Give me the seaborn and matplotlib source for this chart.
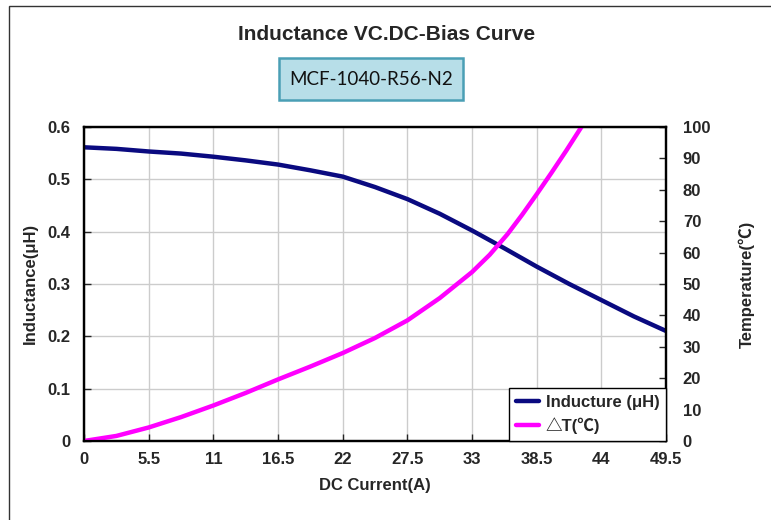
import pandas as pd
import seaborn as sns
import matplotlib.pyplot as plt
from matplotlib.patches import Rectangle
from matplotlib.ticker import FuncFormatter

# DC current (A) vs inductance (uH)
current_l = [0, 2.75, 5.5, 8.25, 11, 13.75, 16.5, 19.25, 22, 24.75, 27.5,
             30.25, 33, 35.75, 38.5, 41.25, 44, 46.75, 49.5]
inductance = [0.561, 0.558, 0.553, 0.549, 0.543, 0.536, 0.528, 0.517, 0.505,
              0.485, 0.462, 0.434, 0.402, 0.368, 0.333, 0.300, 0.269, 0.238, 0.210]

# DC current (A) vs temperature rise (C)
current_t = [0, 2.75, 5.5, 8.25, 11, 13.75, 16.5, 19.25, 22, 24.75, 27.5,
             30.25, 33, 34.5, 36, 37.25, 38.5, 39.75, 41, 42.3]
temp_rise = [0, 1.6, 4.3, 7.6, 11.3, 15.3, 19.6, 23.7, 28.0, 32.8, 38.4,
             45.5, 53.8, 59.3, 65.8, 72.0, 78.6, 85.4, 92.4, 100]

x_ticks = [0, 5.5, 11, 16.5, 22, 27.5, 33, 38.5, 44, 49.5]
y_ticks = [0, 0.1, 0.2, 0.3, 0.4, 0.5, 0.6]
t_ticks = [0, 10, 20, 30, 40, 50, 60, 70, 80, 90, 100]

sns.set_style("white")
plt.rcParams['font.family'] = ['Liberation Sans', 'Noto Sans CJK SC', 'DejaVu Sans']

df_l = pd.DataFrame({'current': current_l, 'value': inductance})
df_t = pd.DataFrame({'current': current_t, 'value': temp_rise})

fig = plt.figure(figsize=(7.71, 5.2), dpi=100)
ax = fig.add_axes([0.109, 0.152, 0.755, 0.604])
ax2 = ax.twinx()

sns.lineplot(data=df_l, x='current', y='value', ax=ax, color='#0a0a80',
             linewidth=3.2, label='Inducture (μH)', legend=False)
sns.lineplot(data=df_t, x='current', y='value', ax=ax2, color='#ff00ff',
             linewidth=3.2, label='△T(℃)', legend=False)

ax.set_xlim(0, 49.5)
ax.set_ylim(0, 0.6)
ax2.set_ylim(0, 100)
ax.set_xticks(x_ticks)
ax.set_xticklabels([f'{v:g}' for v in x_ticks])
ax.set_yticks(y_ticks)
ax.yaxis.set_major_formatter(FuncFormatter(lambda v, p: '0' if v == 0 else f'{v:.1f}'))
ax2.set_yticks(t_ticks)

ax.grid(True, color='#cccccc', linewidth=1)
ax2.grid(False)

for a in (ax, ax2):
    for s in a.spines.values():
        s.set_color('black')
        s.set_linewidth(1.6)
    a.tick_params(direction='in', length=5, width=1, labelsize=12)
    for lbl in a.get_xticklabels() + a.get_yticklabels():
        lbl.set_fontweight('bold')
ax.tick_params(axis='x', pad=8, bottom=True)
ax.tick_params(axis='y', pad=10, left=True)
ax2.tick_params(axis='y', pad=12, right=True)

ax.set_xlabel('DC Current(A)', fontsize=12, fontweight='bold', labelpad=8)
ax.set_ylabel('Inductance(μH)', fontsize=12, fontweight='bold', labelpad=7)
ax2.set_ylabel('Temperature(℃)', fontsize=12, fontweight='bold', labelpad=20)

h1, l1 = ax.get_legend_handles_labels()
h2, l2 = ax2.get_legend_handles_labels()
leg = ax2.legend(h1 + h2, l1 + l2, loc='lower right', borderaxespad=0,
                 fancybox=False, framealpha=1, edgecolor='black',
                 prop={'weight': 'bold', 'size': 12}, handlelength=1.4,
                 handletextpad=0.4, labelspacing=0.45, borderpad=0.4)
leg.get_frame().set_linewidth(1)

fig.text(0.502, 0.933, 'Inductance VC.DC-Bias Curve', ha='center', va='center',
         fontsize=15, fontweight='bold')
fig.patches.append(Rectangle((0.362, 0.808), 0.2387, 0.0808, transform=fig.transFigure,
                             facecolor='#b7dee8', edgecolor='#4a9fb5', linewidth=1.8))
fig.text(0.4815, 0.848, 'MCF-1040-R56-N2', ha='center', va='center', fontsize=13.5,
         family='Lato', color='#111111')

fig.patches.append(Rectangle((0.0122, -0.02), 1.1, 1.0085, transform=fig.transFigure,
                             fill=False, edgecolor='#333333', linewidth=1))

fig.savefig('out.png', dpi=100)
